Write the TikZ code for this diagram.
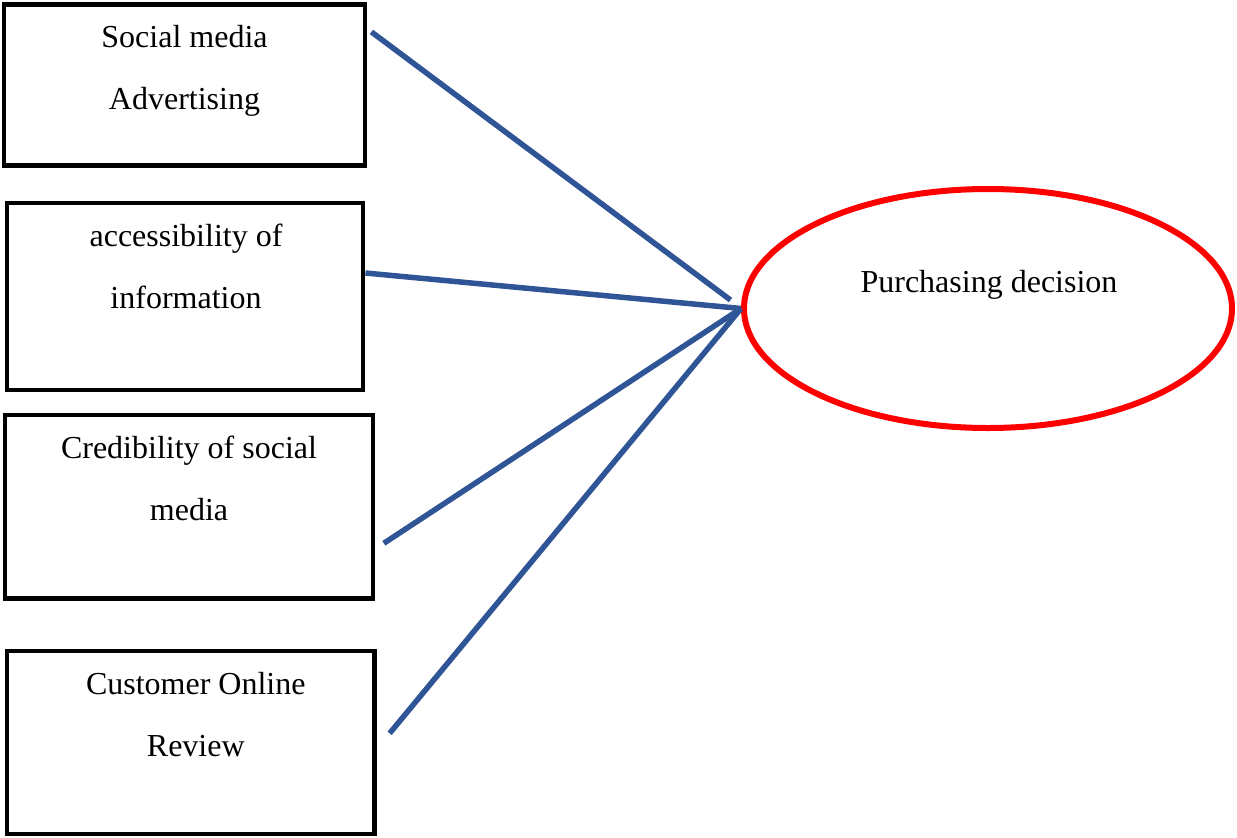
\documentclass[tikz,border=0pt]{standalone}
\usepackage{fontspec}
\setmainfont{Liberation Serif}
\usetikzlibrary{shapes.geometric,calc}
\definecolor{linkblue}{RGB}{47,85,151}
\definecolor{ovalred}{RGB}{255,0,0}
\begin{document}
\begin{tikzpicture}[x=1pt,y=-1pt,
  factorbox/.style={draw=black,line width=4.2pt,rectangle,inner sep=0pt},
  boxlabel/.style={anchor=north,inner sep=0pt,align=center,
    font=\fontsize{32}{62}\selectfont},
  link/.style={draw=linkblue,line width=5.5pt},
  outcome/.style={draw=ovalred,line width=6pt,ellipse,inner sep=0pt,
    minimum width=488pt,minimum height=239pt}]
\useasboundingbox (0,0) rectangle (1237,838);

% factor boxes
\node[factorbox,minimum width=361pt,minimum height=161pt] (b1) at (184.5,85) {};
\node[factorbox,minimum width=356.3pt,minimum height=187pt] (b2) at (185.2,296.5) {};
\node[factorbox,minimum width=368pt,minimum height=183.5pt] (b3) at (189,506.8) {};
\node[factorbox,minimum width=367.5pt,minimum height=183pt] (b4) at (190.8,742.5) {};

% box labels
\node[boxlabel] (t1) at ($(b1.north)+(0,22.6)$) {Social media\\Advertising};
\node[boxlabel] (t2) at ($(b2.north)+(0.8,23.1)$) {accessibility of\\information};
\node[boxlabel] (t3) at ($(b3.north)+(0,23.1)$) {Credibility of social\\media};
\node[boxlabel] (t4) at ($(b4.north)+(5,23.1)$) {Customer Online\\Review};

% outcome
\node[outcome] (pd) at (988,308.5) {};
\node[anchor=base,inner sep=0pt,font=\fontsize{32}{38}\selectfont] (pdt) at (989,292.3) {Purchasing decision};

% connector ends
\coordinate (s1) at ($(b1.north east)+(4.3,29.5)$);
\coordinate (s2) at ($(b2.east)+(0,-23.5)$);
\coordinate (s3) at ($(b3.east)+(8.7,36.5)$);
\coordinate (s4) at ($(b4.east)+(13,-9.2)$);
\coordinate (e1) at ($(pd.west)+(-10.5,-8.5)$);

% connectors
\draw[link] (s1) -- (e1);
\draw[link] (s2) -- (pd.west);
\draw[link] (s3) -- (pd.west);
\draw[link] (s4) -- (pd.west);
\end{tikzpicture}
\end{document}
